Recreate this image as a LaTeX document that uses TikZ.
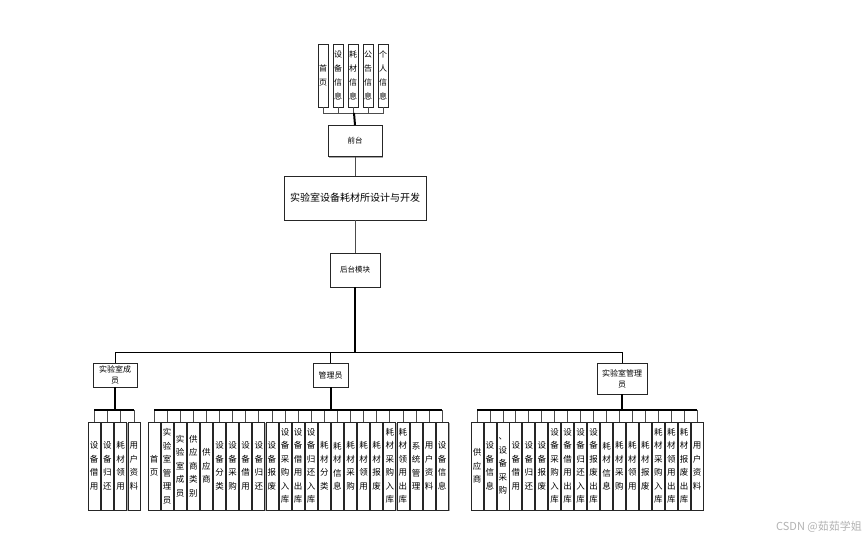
\documentclass[tikz,border=0pt]{standalone}
\usepackage{fontspec}
\setmainfont{Noto Sans CJK SC}
\usetikzlibrary{shadows}
\begin{document}
\begin{tikzpicture}[x=1pt,y=-1pt,
  box/.style={draw=black!85, line width=0.8pt, fill=white, inner sep=1pt, align=center,
    drop shadow={shadow xshift=1.3pt, shadow yshift=-1.3pt, fill=black!35, opacity=1}},
  leaf/.style={box, text width=10pt, minimum height=88pt, font=\fontsize{8.5}{13.5}\selectfont},
  topleaf/.style={box, text width=8pt, minimum height=63pt, font=\fontsize{8}{14}\selectfont},
  thin/.style={draw=black!70, line width=0.8pt},
  thick/.style={draw=black, line width=2pt},
  bar/.style={draw=black, line width=1.2pt}]
\useasboundingbox (0,0) rectangle (866,541);

% top leaves
\foreach \t [count=\i] in {{首\\页},{设\\备\\信\\息},{耗\\材\\信\\息},{公\\告\\信\\息},{个\\人\\信\\息}}
  \node[topleaf] (t\i) at ({323+15*(\i-1)},75.5) {\t};

\node[box, minimum width=54pt, minimum height=31pt, font=\fontsize{7.5}{8}\selectfont] (qt) at (355,141) {前台};
\node[box, minimum width=142pt, minimum height=44pt, font=\fontsize{10}{12}\selectfont] (main) at (355,198) {实验室设备耗材所设计与开发};
\node[box, minimum width=50pt, minimum height=34pt, font=\fontsize{7.5}{9}\selectfont] (ht) at (355,270) {后台模块};

\node[box, minimum width=44pt, minimum height=24pt, font=\fontsize{8}{11}\selectfont] (mL) at (115,375) {实验室成\\员};
\node[box, minimum width=35pt, minimum height=24pt, font=\fontsize{8}{11}\selectfont] (mM) at (330.5,375) {管理员};
\node[box, minimum width=50pt, minimum height=31pt, font=\fontsize{8}{11}\selectfont] (mR) at (622,378.5) {实验室管理\\员};

% leaves
\foreach \t [count=\i] in {{设\\备\\借\\用},{设\\备\\归\\还},{耗\\材\\领\\用},{用\\户\\资\\料}}
  \node[leaf] (l\i) at ({94+13.3*(\i-1)},466) {\t};

\foreach \t [count=\i] in {{首\\页},{实\\验\\室\\管\\理\\员},{实\\验\\室\\成\\员},{供\\应\\商\\类\\别},{供\\应\\商},{设\\备\\分\\类},{设\\备\\采\\购},{设\\备\\借\\用},{设\\备\\归\\还},{设\\备\\报\\废},{设\\备\\采\\购\\入\\库},{设\\备\\借\\用\\出\\库},{设\\备\\归\\还\\入\\库},{耗\\材\\分\\类},{耗\\材\\信\\息},{耗\\材\\采\\购},{耗\\材\\领\\用},{耗\\材\\报\\废},{耗\\材\\采\\购\\入\\库},{耗\\材\\领\\用\\出\\库},{系\\统\\管\\理},{用\\户\\资\\料},{设\\备\\信\\息}}
  \node[leaf] (m\i) at ({154+13.1*(\i-1)},466) {\t};

\foreach \t [count=\i] in {{供\\应\\商},{设\\备\\信\\息},{、\\设\\备\\采\\购},{设\\备\\借\\用},{设\\备\\归\\还},{设\\备\\报\\废},{设\\备\\采\\购\\入\\库},{设\\备\\借\\用\\出\\库},{设\\备\\归\\还\\入\\库},{设\\备\\报\\废\\出\\库},{耗\\材\\信\\息},{耗\\材\\采\\购},{耗\\材\\领\\用},{耗\\材\\报\\废},{耗\\材\\采\\购\\入\\库},{耗\\材\\领\\用\\出\\库},{耗\\材\\报\\废\\出\\库},{用\\户\\资\\料}}
  \node[leaf] (r\i) at ({477+12.95*(\i-1)},466) {\t};

% top connectors
\coordinate (tb) at (354,113);
\foreach \i in {1,...,5} \draw[thin] (t\i.south) |- (tb);
\draw[thick] (qt.north) -- (tb);
\draw[thin] (qt.south) -- (main.north);
\draw[thin] (main.south) -- (ht.north);

% backend hub
\coordinate (hub) at (355,352);
\draw[draw=black, line width=1.5pt] (ht.south) -- (hub);
\draw[draw=black, line width=1pt] (mL.north) |- (hub);
\draw[draw=black, line width=1pt] (mR.north) |- (hub);
\draw[draw=black, line width=1pt] (mM.north) -- (mM.north |- hub);

% group brackets
\coordinate (bL) at (115,410);
\coordinate (bM) at (330.5,410);
\coordinate (bR) at (622,410);
\draw[thick] (mL.south) -- (bL);
\draw[thick] (mM.south) -- (bM);
\draw[thick] (mR.south) -- (bR);
\foreach \i in {1,...,4} \draw[thin] (l\i.north) |- (bL);
\foreach \i in {1,...,23} \draw[thin] (m\i.north) |- (bM);
\foreach \i in {1,...,18} \draw[thin] (r\i.north) |- (bR);
\draw[bar] (l1.north |- bL) -- (l4.north |- bL);
\draw[bar] (m1.north |- bM) -- (m23.north |- bM);
\draw[bar] (r1.north |- bR) -- (r18.north |- bR);

\node[text=black!30, font=\fontsize{11}{13}\selectfont, anchor=east, inner sep=0pt] (wm) at (862,527) {CSDN @茹茹学姐};
\end{tikzpicture}
\end{document}
